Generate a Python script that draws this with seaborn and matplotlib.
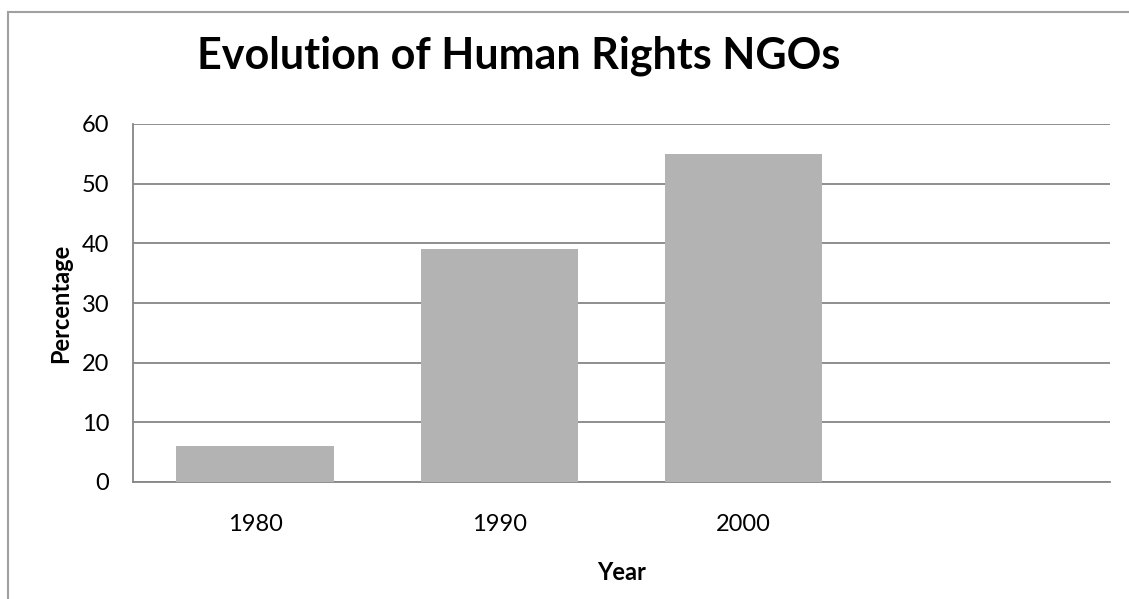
import numpy as np
import pandas as pd
import matplotlib
matplotlib.use("Agg")
import matplotlib.pyplot as plt
from matplotlib.patches import Rectangle
import seaborn as sns

# Data
years = ["1980", "1990", "2000"]
percentages = [6, 39, 55]
y_ticks = [0, 10, 20, 30, 40, 50, 60]
n_slots = 4  # the category axis keeps one empty slot on the right

df = pd.DataFrame({"Year": years, "Percentage": percentages})

sns.set_theme(style="white")
plt.rcParams["font.family"] = ["Lato", "DejaVu Sans"]
plt.rcParams["text.color"] = "black"

fig = plt.figure(figsize=(11.29, 5.99), dpi=100)
ax = fig.add_axes([133 / 1129, 1 - 482 / 599, (1110 - 133) / 1129, (482 - 124) / 599])

sns.barplot(data=df, x="Year", y="Percentage", color="#b3b3b3", width=0.645,
            saturation=1, linewidth=0, ax=ax, zorder=3)

ax.set_xlim(-0.5, n_slots - 0.5)
ax.set_ylim(y_ticks[0], y_ticks[-1])
ax.set_yticks(y_ticks)

grid_col = "#868686"
ax.grid(axis="y", color=grid_col, linewidth=1.3, zorder=0)
ax.grid(axis="x", visible=False)
for side in ["top", "right"]:
    ax.spines[side].set_visible(False)
for side in ["left", "bottom"]:
    ax.spines[side].set_color(grid_col)
    ax.spines[side].set_linewidth(1.3)

ax.tick_params(axis="both", length=0, labelsize=17, labelcolor="black")
ax.tick_params(axis="y", pad=17)
ax.tick_params(axis="x", pad=23)

ax.set_xlabel("Year", fontsize=17, fontweight="bold", va="center", color="black")
ax.set_ylabel("Percentage", fontsize=17, fontweight="bold", va="center", color="black")
ax.xaxis.set_label_coords(0.5, (482 - 573) / 358)
ax.yaxis.set_label_coords((61 - 133) / 977, 0.5)

fig.text(197 / 1129, 1 - 68 / 599, "Evolution of Human Rights NGOs",
         fontsize=31, fontweight="bold", ha="left", va="baseline", color="black")

# chart frame (only left and top edges are inside the picture)
fig.add_artist(Rectangle((8 / 1129, -0.1), 1.2, 1.1 - 12 / 599,
                         transform=fig.transFigure, fill=False,
                         edgecolor="#a0a0a0", linewidth=1.5))

fig.savefig("out.png", dpi=100)
